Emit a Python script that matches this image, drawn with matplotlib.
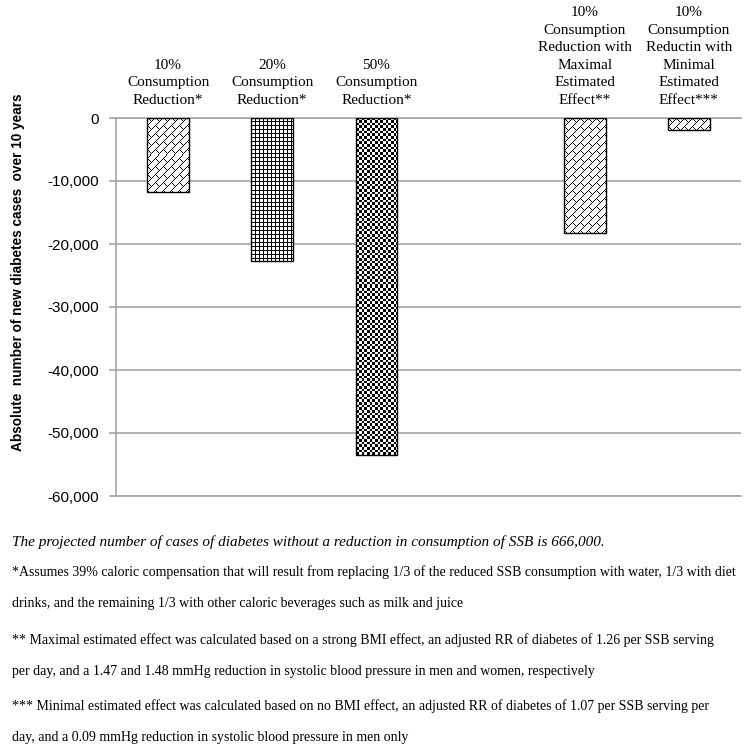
#!/usr/bin/env python3
"""
SSB consumption reduction vs. new diabetes cases over 10 years.
Bars with Excel-like fill patterns (brick, grid, checker), footnotes below.
"""

import numpy as np
import matplotlib
matplotlib.use("Agg")
import matplotlib.pyplot as plt
from matplotlib.ticker import FuncFormatter

# Data
categories = [
    "10%\nConsumption\nReduction*",
    "20%\nConsumption\nReduction*",
    "50%\nConsumption\nReduction*",
    "",
    "10%\nConsumption\nReduction with\nMaximal\nEstimated\nEffect**",
    "10%\nConsumption\nReductin with\nMinimal\nEstimated\nEffect***",
]
values = [-11800, -22700, -53500, np.nan, -18200, -1900]
patterns = ["brick", "grid", "checker", None, "brick", "brick"]
yticks = [0, -10000, -20000, -30000, -40000, -50000, -60000]

ylabel = "Absolute  number of new diabetes cases  over 10 years"
note_main = ("The projected number of cases of diabetes without a reduction "
             "in consumption of SSB is 666,000.")
notes = [
    "*Assumes 39% caloric compensation that will result from replacing 1/3 of the "
    "reduced SSB consumption with water, 1/3 with diet",
    "drinks, and the remaining 1/3 with other caloric beverages such as milk and juice",
    "** Maximal estimated effect was calculated based on a strong BMI effect, an "
    "adjusted RR of diabetes of 1.26 per SSB serving",
    "per day, and a 1.47 and 1.48 mmHg reduction in systolic blood pressure in men "
    "and women, respectively",
    "*** Minimal estimated effect was calculated based on no BMI effect, an adjusted "
    "RR of diabetes of 1.07 per SSB serving per",
    "day, and a 0.09 mmHg reduction in systolic blood pressure in men only",
]

W, H = 747, 751
GRID = "#A6A6A6"
SERIF = "Liberation Serif"
SANS = "Liberation Sans"


def pattern_array(kind, h, w):
    r, c = np.mgrid[0:h, 0:w]
    if kind == "brick":
        P = 8
        k = (c + r) // P
        on = ((c + r) % P == 0) | ((c - r - (k % 2) * P) % (2 * P) == 0)
    elif kind == "grid":
        on = (c % 4 == 0) | (r % 4 == 0)
    else:  # checker
        s = 2.65
        on = ((c // s + r // s) % 2) == 0
    return np.where(on, 0.0, 1.0)


def main():
    fig = plt.figure(figsize=(W / 100, H / 100), dpi=100)
    ax = fig.add_axes([116 / W, 1 - 496 / H, 625 / W, (496 - 118) / H])

    x = np.arange(len(categories))
    ax.set_xlim(-0.5, len(categories) - 0.5)
    ax.set_ylim(-60000, 0)

    for xi, v, pat in zip(x, values, patterns):
        if np.isnan(v):
            continue
        face = ax.bar(xi, v, width=0.40, color="white", edgecolor="none", zorder=2)[0]
        (x0, y0), (x1, y1) = ax.transData.transform([(xi - 0.2, v), (xi + 0.2, 0)])
        wpx = max(int(round(abs(x1 - x0))), 1)
        hpx = max(int(round(abs(y1 - y0))), 1)
        img = ax.imshow(pattern_array(pat, hpx, wpx), cmap="gray", vmin=0, vmax=1,
                        extent=(xi - 0.2, xi + 0.2, v, 0), origin="upper",
                        interpolation="nearest", aspect="auto", zorder=3)
        img.set_clip_path(face)
        ax.bar(xi, v, width=0.40, fill=False, edgecolor="black", linewidth=1.0, zorder=4)

    ax.set_xlim(-0.5, len(categories) - 0.5)
    ax.set_ylim(-60000, 0)

    # y axis
    ax.set_yticks(yticks)
    ax.yaxis.set_major_formatter(FuncFormatter(lambda v, p: f"{v:,.0f}"))
    ax.tick_params(axis="y", colors=GRID, length=5, width=1.2, pad=7,
                   labelsize=11, labelcolor="black")
    for t in ax.get_yticklabels():
        t.set_fontfamily(SANS)
    ax.yaxis.grid(True, color=GRID, linewidth=1.2)
    ax.set_axisbelow(True)

    # category labels above the zero line
    ax.xaxis.tick_top()
    ax.set_xticks(x)
    ax.set_xticklabels(categories, fontfamily=SERIF, fontsize=11,
                       multialignment="center", linespacing=1.45)
    ax.tick_params(axis="x", length=0, pad=8)

    for side in ["top", "bottom", "left"]:
        ax.spines[side].set_color(GRID)
        ax.spines[side].set_linewidth(1.2)
    ax.spines["right"].set_visible(False)

    fig.text(18 / W, 1 - 272 / H, ylabel, rotation=90, ha="center", va="center",
             fontsize=9.8, fontweight="bold", fontfamily=SANS)

    # footnotes
    fig.text(12 / W, 1 - 542 / H, note_main, ha="left", va="center",
             fontsize=11, fontstyle="italic", fontfamily=SERIF)
    ys = [572, 604, 640, 672, 706, 738]
    for yy, line in zip(ys, notes):
        fig.text(12 / W, 1 - yy / H, line, ha="left", va="center",
                 fontsize=10, fontfamily=SERIF)

    fig.savefig("out.png", dpi=100)


if __name__ == "__main__":
    main()
